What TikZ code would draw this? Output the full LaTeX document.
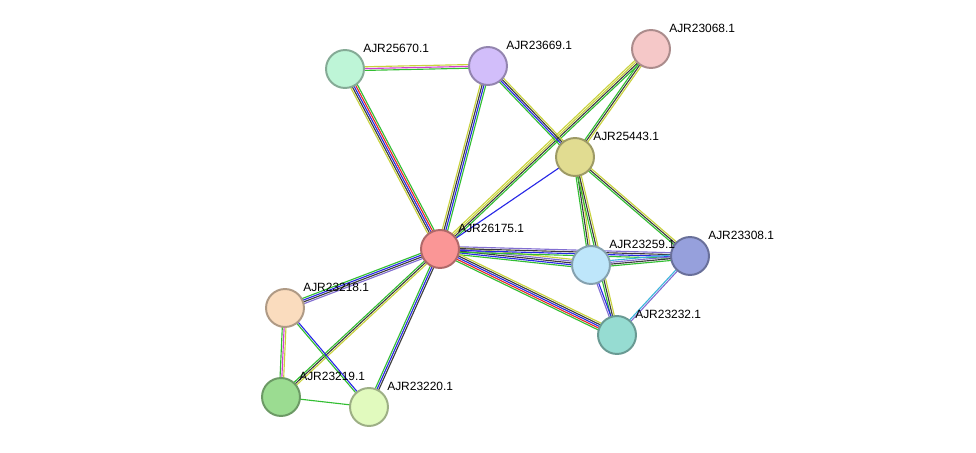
\documentclass[tikz,border=0pt]{standalone}
\usepackage{fontspec}
\setmainfont{Liberation Sans}
\usetikzlibrary{calc}
\usetikzlibrary{backgrounds}
\definecolor{egreen}{RGB}{50,190,50}
\definecolor{eyellow}{RGB}{200,210,60}
\definecolor{eblack}{RGB}{60,60,60}
\definecolor{eblue}{RGB}{40,40,230}
\definecolor{ered}{RGB}{230,40,40}
\definecolor{emag}{RGB}{210,60,210}
\definecolor{ecyan}{RGB}{60,180,220}
\definecolor{epurp}{RGB}{130,110,210}
\newcommand\linkedge[4]{%
  \foreach \c [count=\i] in {#4}{
    \pgfmathsetmacro\off{(\i-(#3+1)/2)*1.3}
    \draw[\c, line width=0.8pt] ($(#1)!\off pt!90:(#2)$) -- ($(#2)!\off pt!-90:(#1)$);
  }}
\tikzset{
  prot/.style={circle, minimum size=27pt, inner sep=0pt, line width=1.4pt, draw=#1!70!black, fill=#1},
  lbl/.style={anchor=west, font=\fontsize{8.5}{10}\selectfont, inner sep=0pt}
}
\begin{document}
\begin{tikzpicture}[x=0.025cm, y=-0.025cm]
  \useasboundingbox (0,0) rectangle (976,453);
  % proteins
  \definecolor{c1}{RGB}{250,150,150}
  \definecolor{c2}{RGB}{190,245,215}
  \definecolor{c3}{RGB}{210,190,250}
  \definecolor{c4}{RGB}{245,200,200}
  \definecolor{c5}{RGB}{225,220,145}
  \definecolor{c6}{RGB}{190,230,250}
  \definecolor{c7}{RGB}{150,160,220}
  \definecolor{c8}{RGB}{150,220,210}
  \definecolor{c9}{RGB}{250,220,190}
  \definecolor{c10}{RGB}{155,220,145}
  \definecolor{c11}{RGB}{225,250,190}
  \node[prot=c1] (p26175) at (440,249) {};
  \node[prot=c2] (p25670) at (345,69) {};
  \node[prot=c3] (p23669) at (488,66) {};
  \node[prot=c4] (p23068) at (651,49) {};
  \node[prot=c5] (p25443) at (575,157) {};
  \node[prot=c6] (p23259) at (591,265) {};
  \node[prot=c7] (p23308) at (690,256) {};
  \node[prot=c8] (p23232) at (617,335) {};
  \node[prot=c9] (p23218) at (285,308) {};
  \node[prot=c10] (p23219) at (281,397) {};
  \node[prot=c11] (p23220) at (369,407) {};
  % labels
  \foreach \p/\t in {26175/AJR26175.1, 25670/AJR25670.1, 23669/AJR23669.1, 23068/AJR23068.1,
                     25443/AJR25443.1, 23259/AJR23259.1, 23308/AJR23308.1, 23232/AJR23232.1,
                     23218/AJR23218.1, 23219/AJR23219.1, 23220/AJR23220.1}
    \node[lbl] (l\p) at ($(p\p)+(18,-21)$) {\t};
  % links
  \begin{pgfonlayer}{background}
    \linkedge{p26175}{p25670}{5}{egreen,ered,eblue,eblack,eyellow}
    \linkedge{p26175}{p23669}{4}{egreen,eblue,eblack,eyellow}
    \linkedge{p26175}{p23068}{4}{egreen,eblack,eyellow,eyellow}
    \linkedge{p26175}{p25443}{1}{eblue}
    \linkedge{p26175}{p23259}{5}{egreen,eblue,eblack,epurp,eyellow}
    \linkedge{p26175}{p23308}{4}{egreen,eblue,eblack,epurp}
    \linkedge{p26175}{p23232}{5}{egreen,ered,eblue,eblack,eyellow}
    \linkedge{p26175}{p23218}{4}{egreen,eblue,eblack,epurp}
    \linkedge{p26175}{p23219}{3}{egreen,eblack,eyellow}
    \linkedge{p26175}{p23220}{3}{egreen,eblue,eblack}
    \linkedge{p25670}{p23669}{3}{egreen,emag,eyellow}
    \linkedge{p23669}{p25443}{4}{egreen,eblue,eblack,eyellow}
    \linkedge{p23068}{p25443}{3}{egreen,eblack,eyellow}
    \linkedge{p25443}{p23259}{3}{egreen,eblack,eyellow}
    \linkedge{p25443}{p23308}{3}{egreen,eblack,eyellow}
    \linkedge{p25443}{p23232}{3}{egreen,eblack,eyellow}
    \linkedge{p23259}{p23308}{4}{egreen,eblack,epurp,ecyan}
    \linkedge{p23259}{p23232}{2}{epurp,eblue}
    \linkedge{p23308}{p23232}{2}{ecyan,epurp}
    \linkedge{p23218}{p23219}{3}{egreen,emag,eyellow}
    \linkedge{p23218}{p23220}{2}{egreen,eblue}
    \linkedge{p23219}{p23220}{1}{egreen}
  \end{pgfonlayer}
\end{tikzpicture}
\end{document}
